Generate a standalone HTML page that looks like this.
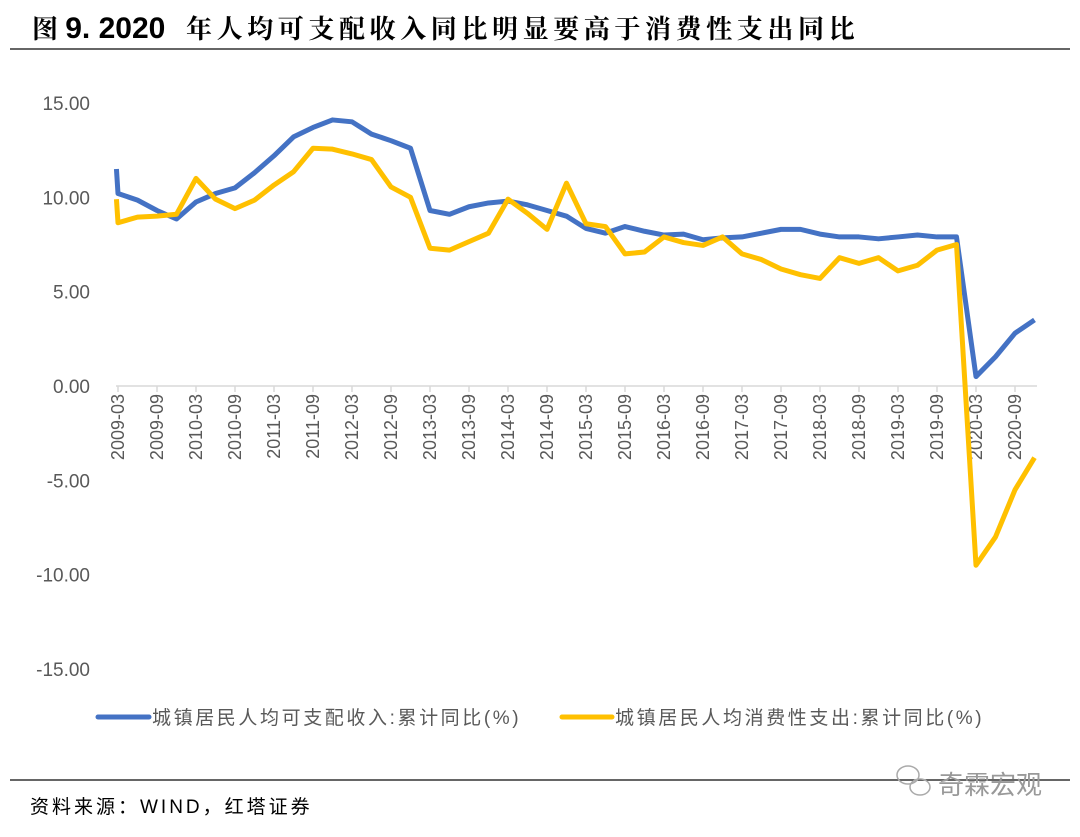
<!DOCTYPE html>
<html><head><meta charset="utf-8"><style>
body{margin:0;background:#fff;width:1080px;height:832px;overflow:hidden;font-family:"Liberation Sans","Noto Sans CJK SC",sans-serif;}
</style></head><body>
<svg width="1080" height="832" xmlns="http://www.w3.org/2000/svg" id="chart">
<text x="32" y="38" font-size="26" font-weight="bold" fill="#000" font-family="'Liberation Sans','Noto Serif CJK SC',serif"><tspan>图 </tspan><tspan font-size="30">9. 2020</tspan><tspan x="186" letter-spacing="4.6">年人均可支配收入同比明显要高于消费性支出同比</tspan></text>
<line x1="10" y1="49" x2="1070" y2="49" stroke="#333" stroke-width="1.5"/>
<g id="yaxis"></g>
<g id="xaxis"></g>
<g id="series"></g>
<g>
<g><line x1="98" y1="717" x2="149" y2="717" stroke="#4472C4" stroke-width="5" stroke-linecap="round"/><text x="152" y="724" font-size="19" fill="#595959" letter-spacing="2.6">城镇居民人均可支配收入:累计同比(%)</text></g>
<g><line x1="562" y1="717" x2="612" y2="717" stroke="#FFC000" stroke-width="5" stroke-linecap="round"/><text x="615" y="724" font-size="19" fill="#595959" letter-spacing="2.6">城镇居民人均消费性支出:累计同比(%)</text></g>
</g>
<line x1="10" y1="780" x2="1070" y2="780" stroke="#333" stroke-width="1.5"/>
<text x="30" y="813" font-size="19" fill="#000" letter-spacing="3">资料来源：WIND，红塔证券</text>
<text x="938" y="794" font-size="26" fill="#999">奇霖宏观</text>
<g fill="none" stroke="#aaa" stroke-width="1.5"><ellipse cx="908" cy="775" rx="11" ry="9"/><ellipse cx="920" cy="787" rx="10" ry="8"/></g>
</svg>
<script>
const categories=[];for(let y=2009;y<=2020;y++){for(const m of ['03','06','09','12'])categories.push(y+'-'+m);}
const incomeValues=[10.2,9.85,9.3,8.85,9.75,10.2,10.5,11.3,12.2,13.2,13.7,14.1,14.0,13.35,13.0,12.6,9.3,9.1,9.5,9.7,9.8,9.6,9.3,9.0,8.35,8.1,8.45,8.2,8.0,8.05,7.75,7.85,7.9,8.1,8.3,8.3,8.05,7.9,7.9,7.8,7.9,8.0,7.9,7.9,0.5,1.55,2.8,3.5];
const consumptionValues=[8.65,8.95,9.0,9.1,11.0,9.9,9.4,9.85,10.65,11.35,12.6,12.55,12.3,12.0,10.55,10.0,7.3,7.2,7.65,8.1,9.9,9.15,8.3,10.75,8.6,8.45,7.0,7.1,7.9,7.6,7.45,7.9,7.0,6.7,6.2,5.9,5.7,6.8,6.5,6.8,6.1,6.4,7.2,7.5,-9.5,-8.0,-5.5,-3.8];
const incomeStart=[11.5];
const consumptionStart=[9.9];
const yTicks=[15,10,5,0,-5,-10,-15];
const NS='http://www.w3.org/2000/svg';
const X=i=>118+i*19.5;
const Y=v=>386-v*18.87;
function mk(tag,attrs,parent){const e=document.createElementNS(NS,tag);for(const k in attrs)e.setAttribute(k,attrs[k]);parent.appendChild(e);return e;}
const ya=document.getElementById('yaxis'),xa=document.getElementById('xaxis'),sg=document.getElementById('series');
yTicks.forEach(v=>{const t=mk('text',{x:90,y:Y(v)+7,'text-anchor':'end','font-size':19,fill:'#595959'},ya);t.textContent=v.toFixed(2);

});
const ax=mk('line',{x1:116,y1:Y(0),x2:1037,y2:Y(0),stroke:'#d9d9d9','stroke-width':1.5},xa);


categories.forEach((c,i)=>{if(i%2)return;const x=X(i);
mk('line',{x1:x,y1:Y(0),x2:x,y2:Y(0)+6,stroke:'#d9d9d9','stroke-width':1.5},xa);
const t=mk('text',{x:0,y:0,'font-size':18,fill:'#595959','text-anchor':'end',transform:`translate(${x+6},${Y(0)+8}) rotate(-90)`},xa);t.textContent=c;

});
function line(vals,start,color,name){let d=`M${X(-0.08)},${Y(start[0])}`;vals.forEach((v,i)=>d+=` L${X(i)},${Y(v)}`);
const p=mk('path',{d,fill:'none',stroke:color,'stroke-width':5,'stroke-linejoin':'round'},sg);

}
line(incomeValues,incomeStart,'#4472C4','income-line');
line(consumptionValues,consumptionStart,'#FFC000','consumption-line');
</script>
</body></html>
